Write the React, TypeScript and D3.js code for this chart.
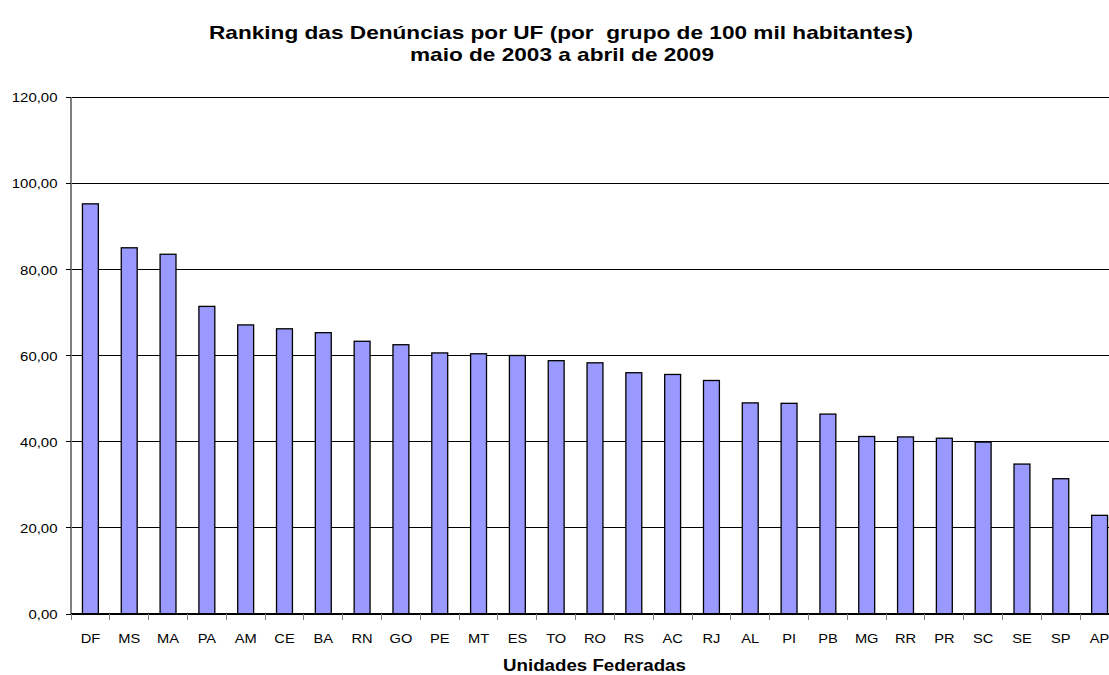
import * as d3 from "d3";

const ufs = ["DF", "MS", "MA", "PA", "AM", "CE", "BA", "RN", "GO", "PE", "MT", "ES", "TO", "RO", "RS", "AC", "RJ", "AL", "PI", "PB", "MG", "RR", "PR", "SC", "SE", "SP", "AP"];
const rates = [95.2, 85.0, 83.5, 71.4, 67.1, 66.2, 65.3, 63.3, 62.5, 60.6, 60.4, 60.0, 58.8, 58.3, 56.0, 55.6, 54.2, 49.0, 48.9, 46.4, 41.2, 41.1, 40.8, 39.9, 34.8, 31.4, 22.9];
const yTicks = [0, 20, 40, 60, 80, 100, 120];

const W = 1109;
const H = 675;
const left = 71;
const right = 1119;
const top = 97;
const bottom = 614;
const FONT = "Arial, 'Liberation Sans', sans-serif";

// Text stretched horizontally, like the scaled chart in the source
function SText(props: { x: number; y: number; sx: number; size: number; anchor?: string; bold?: boolean; children: any }) {
  const { x, y, sx, size, anchor = "middle", bold = false, children } = props;
  return (
    <text
      transform={`translate(${x},${y}) scale(${sx},1)`}
      textAnchor={anchor}
      fontSize={size}
      fontWeight={bold ? "bold" : "normal"}
      fill="#000"
    >
      {children}
    </text>
  );
}

export default function App() {
  const x = d3.scaleBand<string>().domain(ufs).range([left, right]).paddingInner(0.59).paddingOuter(0.295);
  const xOuter = d3.scaleBand<string>().domain(ufs).range([left, right]);
  const y = d3.scaleLinear().domain([0, 120]).range([bottom, top]);
  const fmt = (v: number) => v.toFixed(2).replace(".", ",");

  return (
    <svg width={W} height={H} style={{ position: "absolute", left: 0, top: 0, overflow: "hidden" }} fontFamily={FONT}>
      <rect width={W} height={H} fill="#fff" />
      <text x={209} y={39} fontSize={19} fontWeight="bold" textLength={704} lengthAdjust="spacingAndGlyphs" style={{ whiteSpace: "pre" }}>
        {"Ranking das Denúncias por UF (por  grupo de 100 mil habitantes)"}
      </text>
      <text x={410} y={61} fontSize={19} fontWeight="bold" textLength={304} lengthAdjust="spacingAndGlyphs">
        maio de 2003 a abril de 2009
      </text>

      {/* gridlines */}
      {yTicks.filter((t) => t > 0).map((t) => (
        <line key={t} x1={left} x2={right} y1={y(t)} y2={y(t)} stroke="#000" strokeWidth={1} shapeRendering="crispEdges" />
      ))}

      {/* bars */}
      {ufs.map((u, i) => (
        <rect
          key={u}
          x={x(u)}
          y={y(rates[i])}
          width={x.bandwidth()}
          height={bottom - y(rates[i])}
          fill="#9999ff"
          stroke="#000"
          strokeWidth={1.3}
        />
      ))}

      {/* y axis */}
      <line x1={left} x2={left} y1={top} y2={bottom} stroke="#808080" strokeWidth={1.3} shapeRendering="crispEdges" />
      {yTicks.map((t) => (
        <g key={t}>
          <line x1={left - 5} x2={left} y1={y(t)} y2={y(t)} stroke="#000" shapeRendering="crispEdges" />
          <SText x={left - 13.5} y={y(t) + 5.3} sx={1.1} size={13.6} anchor="end">
            {fmt(t)}
          </SText>
        </g>
      ))}

      {/* x axis */}
      <line x1={left} x2={right} y1={bottom} y2={bottom} stroke="#000" strokeWidth={1.3} shapeRendering="crispEdges" />
      {ufs.map((u) => (
        <g key={u}>
          <line x1={xOuter(u)!} x2={xOuter(u)!} y1={bottom} y2={bottom + 6} stroke="#808080" shapeRendering="crispEdges" />
          <SText x={xOuter(u)! + xOuter.bandwidth() / 2} y={642.7} sx={1.1} size={13.3}>
            {u}
          </SText>
        </g>
      ))}

      <SText x={594.5} y={670.5} sx={1.1} size={17} bold>
        Unidades Federadas
      </SText>
    </svg>
  );
}
